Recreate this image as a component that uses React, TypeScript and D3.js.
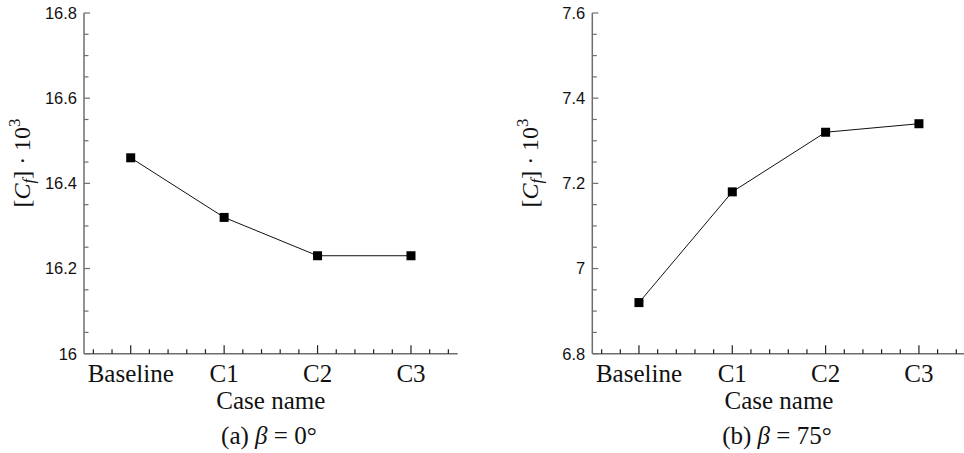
import React from "react";
import * as d3 from "d3";

const categories = ["Baseline", "C1", "C2", "C3"];
const cfBeta0 = [16.46, 16.32, 16.23, 16.23];
const cfBeta75 = [6.92, 7.18, 7.32, 7.34];
const yTicksA = [16, 16.2, 16.4, 16.6, 16.8];
const yTicksB = [6.8, 7, 7.2, 7.4, 7.6];
const yDomainA = [16, 16.8];
const yDomainB = [6.8, 7.6];
const captionA = "(a) ";
const captionB = "(b) ";
const betaA = "0°";
const betaB = "75°";

const W = 964;
const H = 453;
const serif = "'Liberation Serif', 'Times New Roman', serif";
const sans = "'Liberation Sans', Arial, sans-serif";
const axisColor = "#6e6e6e";

type PanelProps = {
  x0: number;
  x1: number;
  values: number[];
  yDomain: number[];
  yTicks: number[];
  caption: string;
  beta: string;
};

function Panel({ x0, x1, values, yDomain, yTicks, caption, beta }: PanelProps) {
  const yTop = 13;
  const yBot = 353.7;
  const x = d3.scaleLinear().domain([-0.5, 3.5]).range([x0, x1]);
  const y = d3.scaleLinear().domain(yDomain).range([yBot, yTop]);
  const xMinor = d3.range(-0.4, 3.45, 0.2).filter((v) => Math.abs(v - Math.round(v)) > 1e-6);
  const xMajor = d3.range(0, categories.length);
  const step = (yDomain[1] - yDomain[0]) / 16;
  const yMinor = d3.range(1, 16).map((i) => yDomain[0] + i * step).filter((_, i) => (i + 1) % 4 !== 0);
  const line = d3
    .line<number>()
    .x((_, i) => x(i))
    .y((d) => y(d));
  const cx = (x0 + x1) / 2;
  return (
    <g>
      <line x1={x0} x2={x0} y1={yTop} y2={yBot} stroke={axisColor} strokeWidth={1.5} />
      <line x1={x0} x2={x1} y1={yBot} y2={yBot} stroke={axisColor} strokeWidth={1.5} />
      {yTicks.map((t) => (
        <g key={"ym" + t}>
          <line x1={x0} x2={x0 + 6} y1={y(t)} y2={y(t)} stroke={axisColor} strokeWidth={1.2} />
          <text x={x0 - 7} y={y(t)} dy="0.36em" textAnchor="end" fontFamily={sans} fontSize={16.5} fill="#111">
            {d3.format("~g")(t)}
          </text>
        </g>
      ))}
      {yMinor.map((t, i) => (
        <line key={"yn" + i} x1={x0} x2={x0 + 4.5} y1={y(t)} y2={y(t)} stroke={axisColor} strokeWidth={1.2} />
      ))}
      {xMajor.map((t) => (
        <g key={"xm" + t}>
          <line x1={x(t)} x2={x(t)} y1={yBot} y2={yBot - 8.5} stroke="#222" strokeWidth={1.2} />
          <text x={x(t)} y={382} textAnchor="middle" fontFamily={serif} fontSize={25} fill="#111">
            {categories[t]}
          </text>
        </g>
      ))}
      {xMinor.map((t, i) => (
        <line key={"xn" + i} x1={x(t)} x2={x(t)} y1={yBot} y2={yBot - 4.5} stroke="#222" strokeWidth={1.2} />
      ))}
      <path d={line(values) || ""} fill="none" stroke="#111" strokeWidth={1} />
      {values.map((v, i) => (
        <rect key={"p" + i} x={x(i) - 4.5} y={y(v) - 4.5} width={9} height={9} fill="#000" />
      ))}
      <text
        transform={`translate(${x0 - 54},${163}) rotate(-90)`}
        textAnchor="middle"
        fontFamily={serif}
        fontSize={24}
        fill="#111"
      >
        <tspan>[</tspan>
        <tspan fontStyle="italic">C</tspan>
        <tspan fontStyle="italic" fontSize={17} dy={4}>f</tspan>
        <tspan dy={-4}>] · 10</tspan>
        <tspan fontSize={17} dy={-10}>3</tspan>
      </text>
      <text x={cx} y={409} textAnchor="middle" fontFamily={serif} fontSize={25} fill="#111">
        Case name
      </text>
      <text x={cx - 2} y={444} textAnchor="middle" fontFamily={serif} fontSize={25} fill="#111">
        <tspan>{caption}</tspan>
        <tspan fontStyle="italic">β</tspan>
        <tspan> = {beta}</tspan>
      </text>
    </g>
  );
}

export default function App() {
  return (
    <svg
      width={W}
      height={H}
      viewBox={`0 0 ${W} ${H}`}
      style={{ position: "absolute", left: 0, top: 0, background: "#fff" }}
    >
      <rect width={W} height={H} fill="#fff" />
      <Panel x0={84} x1={457.7} values={cfBeta0} yDomain={yDomainA} yTicks={yTicksA} caption={captionA} beta={betaA} />
      <Panel x0={592.3} x1={965.6} values={cfBeta75} yDomain={yDomainB} yTicks={yTicksB} caption={captionB} beta={betaB} />
    </svg>
  );
}
